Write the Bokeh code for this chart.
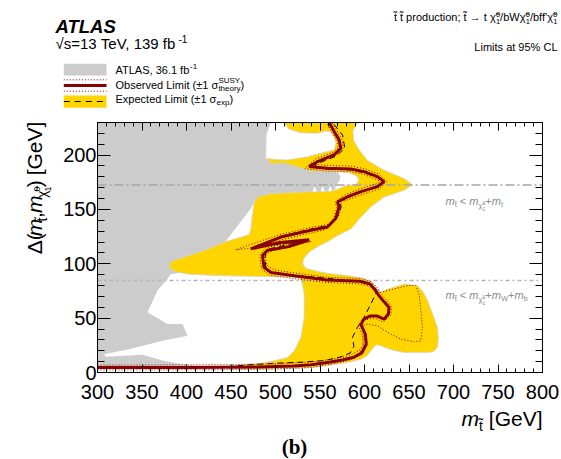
from math import pi
from bokeh.plotting import figure
from bokeh.layouts import column, row
from bokeh.models import (Label, LinearAxis, FixedTicker, CustomJSTickFormatter, Range1d)
from bokeh.embed import file_html
from bokeh.resources import INLINE

# ---------------- data (GeV) ----------------
x_ticks = [300, 350, 400, 450, 500, 550, 600, 650, 700, 750, 800]
y_ticks = [0, 50, 100, 150, 200]
x_minor = list(range(300, 801, 10))
y_minor = list(range(0, 231, 10))

mt_line = 172.5       # m_stop < m_chi + m_t
mwb_line = 84.6       # m_stop < m_chi + m_W + m_b

# previous ATLAS 36.1 fb-1 excluded region (grey)
prev_region = [(300, 230), (494.7, 230), (489.5, 219), (489, 197), (494.8, 192.5), (513, 194), (540, 189),
               (565, 187), (569.7, 184.8), (573, 180), (571.5, 176), (568, 172.5), (566, 165), (564.5, 165),
               (561.5, 172), (558.5, 165), (556, 165), (553, 172), (550, 165), (547, 165), (544, 171.5),
               (541, 165), (500, 163), (476, 157), (472.5, 151), (444.2, 121), (420, 100), (395, 92),
               (382, 90.5), (378.6, 86), (367.4, 75.4), (356.1, 55.4), (378.6, 44.6), (395.5, 44.6),
               (401.1, 33.8), (373, 29.2), (335.5, 21.5), (307.5, 16.9), (309.3, 14.5), (350.5, 16.3),
               (373, 11), (395.5, 7.7), (420, 5.5), (420, 4.5), (300, 4.5)]

# expected +-1 sigma band (yellow)
exp_band = [(494.7, 230), (592, 230), (587, 222), (588, 213), (594, 205), (603, 195.3), (622, 186.1),
            (644.5, 178.4), (654, 172.8), (644.5, 167.6), (622, 161.5), (607, 152.2), (596, 143),
            (585, 132.2), (570, 126), (560, 121), (548, 116), (538, 111), (532, 105), (530.5, 100),
            (534, 96), (545, 93.5), (558, 91.3), (581, 89.2), (600, 86.5), (610, 82), (614, 76),
            (618, 73.8), (625, 76.5), (633, 78.4), (644.5, 81.5), (659.5, 80), (666, 74), (671, 66),
            (677, 53), (682, 41.5), (683, 32), (682, 23), (677, 19), (671, 18.4), (657, 18.4),
            (644.5, 18.4), (630, 21), (618, 24.6), (613, 25.5), (608, 21), (603, 15.4), (596, 12.3),
            (585, 10), (575, 8.5), (560, 6.5), (540, 4.5), (500, 3.3), (460, 3.2), (448, 3.5),
            (447, 5.5), (455, 6.5), (483.5, 8.5), (498.5, 10.8), (513.5, 13.8), (521, 20), (528.4, 32.3),
            (532.2, 50.7), (532.2, 72.3), (530, 82), (527, 87.5), (500, 88), (470, 88.5), (433, 89.2),
            (403, 90.5), (388, 92.5), (381, 96), (381, 100), (385, 103), (397.4, 106.2), (419.9, 112.3),
            (444.2, 120.5), (459, 124), (470.4, 127), (472.3, 132.3), (474.2, 146.1), (476, 156.9),
            (481.6, 162.1), (494.8, 164.6), (532.2, 166.1), (560, 166.5), (568, 168), (578, 171.5),
            (590, 173), (594, 177), (591, 181), (582, 184), (569.7, 184.8), (539.7, 185.4),
            (509.8, 192.5), (494.8, 192.5), (489, 197), (489.5, 219)]

# hole inside the band (not excluded even at -1 sigma)
band_hole = [(494.7, 230), (509, 230), (515, 224), (528, 220.5), (547, 220), (556, 222), (562, 222),
             (566, 216), (567.8, 211), (565.9, 204.8), (558.4, 203.3), (536, 198.6), (513.5, 195.6),
             (500, 196), (489, 197), (489.5, 219)]

observed = [(300, 4.5), (400, 4.5), (480, 5), (520, 6), (540, 7.1), (560, 9.5), (575, 11.5), (588, 14),
            (597, 18), (602, 26), (601, 35), (596, 44), (599, 49), (606, 52), (614, 52), (622, 49),
            (627, 54), (627.5, 60), (622, 65), (616, 71), (612, 76), (606, 81.5), (595, 84), (558, 85.2),
            (521, 89), (495, 92), (487, 96.9), (485.4, 107.7), (491, 112.4), (515, 115.8), (537.8, 122.1),
            (505, 119.6), (472.3, 113.8), (506, 124.6), (539.7, 130.8), (558.4, 133.8), (567.8, 142),
            (571.5, 152.3), (569.7, 156.9), (577, 160), (581, 161.7), (596, 166.4), (614.6, 171),
            (622, 175.6), (614.6, 180.2), (599.6, 184.8), (584.7, 187.3), (558.4, 187.9), (537.8, 189.4),
            (547.2, 194), (565.9, 200.2), (573.4, 206.3), (571.5, 214), (565.9, 221.7), (560.3, 230)]

expected = [(300, 4.5), (440, 5), (470, 7), (500, 8.5), (530, 9.5), (555, 11), (572, 14), (584, 18),
            (588, 24), (586.5, 32.3), (592, 41.5), (599.6, 50.7), (607, 63), (612.7, 72.3), (611, 80),
            (600, 83.5), (560, 86.5), (522, 89.5), (497, 91.5), (489.5, 96), (488, 104), (489, 110),
            (494, 114), (532, 121), (478, 115.5), (507, 125.5), (540, 132), (560, 135.5), (569.5, 143),
            (573.5, 152), (572, 157.5), (579, 160.5), (583, 162), (597.5, 167), (616, 171.5),
            (620.5, 175.6), (614, 179.5), (599, 183.8), (584, 186.5), (558, 187), (541, 188.5),
            (551, 193.5), (568, 199), (577.9, 206.3), (575.3, 218.6), (566, 228), (563, 230)]

obs_up = [(300, 6.8), (450, 7.2), (500, 8), (540, 9.8), (560, 11.8), (575, 13.8), (586, 16.8), (595, 21),
          (599.5, 27), (598.5, 36), (597.7, 43), (603.3, 44.6), (614.6, 43), (625.8, 36.9), (640.8, 30.7),
          (655.8, 28.3), (663.3, 29.2), (665.1, 41.5), (663.3, 56.9), (661.4, 72.3), (657.6, 80),
          (648.3, 80), (633.3, 76.9), (618.3, 73.8), (614, 78.5), (608, 83.5), (596, 86.5), (558, 87.7),
          (522, 91.5), (498, 94.5), (490, 99), (488.5, 107), (493, 111), (540, 120.5), (455, 112.9),
          (505, 127), (540, 133.5), (560, 136.5), (570.5, 143), (574.5, 152.3), (573.5, 157.5),
          (578, 158), (583, 159.5), (598, 164), (616.5, 168.8), (625, 175.6), (616.5, 182.5),
          (600.5, 187.3), (585, 190), (560, 190.5), (543, 191.5), (550, 196.5), (568, 202),
          (576.3, 206.5), (574.5, 214.5), (569, 222.5), (563.5, 230)]

obs_dn = [(300, 2.3), (450, 2.6), (500, 3.2), (540, 4.6), (558, 7.1), (572, 9.2), (584, 11.6), (593, 15.3),
          (598.5, 24), (597.5, 34.5), (593, 44), (597, 47), (606, 49.5), (613, 49.5), (621, 46.3),
          (629.8, 53), (630.3, 61), (624, 67), (618.5, 72.5), (614, 77.2), (606, 79.5), (595, 81.5),
          (558, 82.8), (520, 86.5), (493, 89.5), (484, 95.5), (482.5, 108), (489, 114.8), (525, 120.5),
          (485, 116.8), (507, 122.2), (540, 128.3), (556.5, 131.5), (565.3, 141.5), (569, 152),
          (567, 156.5), (576, 162.3), (580, 164), (595, 169), (612, 173.2), (619, 175.6), (612, 178),
          (599, 182.3), (584.5, 184.7), (558, 185.3), (533, 187.5), (545, 196.5), (563.5, 202.3),
          (570.6, 206.3), (569, 213.5), (563, 221), (557.5, 230)]

# ---------------- styles / layout ----------------
GREY = "#cccccc"
YELLOW = "#ffd500"
RED = "#880000"
FONT = "Liberation Sans"

PW, PH = 561, 459
HDR_H = 112                  # header strip (page y 0..112)
LEFT_W = 56                  # strip holding the y-axis title
M_TOP, M_BOT = 10, 32
FRAME_L, FRAME_R, FRAME_T, FRAME_B = 97, 542, 122, 372
MAIN_H = M_TOP + (FRAME_B - FRAME_T) + M_BOT
MAIN_W = PW - LEFT_W
MAIN_Y0 = HDR_H
MAIN_Y1 = HDR_H + MAIN_H
FOOT_H = PH - MAIN_Y1
XR, YR = (300, 800), (0, 230)
BASE_FIX = 0.33   # baseline correction (fraction of font size)


def blank(w, h, y0, y1):
    f = figure(width=w, height=h, x_range=Range1d(0, w), y_range=Range1d(y1, y0),
               output_backend="svg", toolbar_location=None, min_border=0,
               x_axis_location=None, y_axis_location=None)
    f.grid.visible = False
    f.outline_line_color = None
    f.background_fill_color = "white"
    f.border_fill_color = "white"
    return f


hdr = blank(PW, HDR_H, 0, HDR_H)
lft = blank(LEFT_W, MAIN_H, MAIN_Y0, MAIN_Y1)
ftr = blank(PW, FOOT_H, MAIN_Y1, PH)

p = figure(width=MAIN_W, height=MAIN_H, x_range=Range1d(*XR), y_range=Range1d(*YR),
           output_backend="svg", toolbar_location=None,
           min_border_left=FRAME_L - LEFT_W, min_border_right=PW - FRAME_R,
           min_border_top=M_TOP, min_border_bottom=M_BOT)
p.grid.visible = False
p.outline_line_color = "black"
p.outline_line_width = 1
p.background_fill_color = "white"
p.border_fill_color = "white"


def MX(px):
    return XR[0] + (px - FRAME_L) * (XR[1] - XR[0]) / (FRAME_R - FRAME_L)


def MY(py):
    return YR[0] + (FRAME_B - py) * (YR[1] - YR[0]) / (FRAME_B - FRAME_T)


def xs_ys(pts):
    return [a for a, b in pts], [b for a, b in pts]


gx, gy = xs_ys(prev_region)
p.patch(gx, gy, fill_color=GREY, line_color=None)
bx, by = xs_ys(exp_band)
p.patch(bx, by, fill_color=YELLOW, line_color="#d4d4d4", line_width=0.8)
hx, hy = xs_ys(band_hole)
p.patch(hx, hy, fill_color="white", line_color="#d4d4d4", line_width=0.8)

p.line(list(XR), [mt_line, mt_line], line_color="#a6a6a6", line_width=1.5, line_dash="9 3 2 3")
p.line(list(XR), [mwb_line, mwb_line], line_color="#b4b4b4", line_width=1.5, line_dash="4 3 2 3")

ex, ey = xs_ys(expected)
p.line(ex, ey, line_color="black", line_width=1, line_dash="6 4")
ux, uy = xs_ys(obs_up)
p.line(ux, uy, line_color=RED, line_width=1, line_dash="1 2")
dx, dy_ = xs_ys(obs_dn)
p.line(dx, dy_, line_color=RED, line_width=1, line_dash="1 2")
ox, oy = xs_ys(observed)
p.line(ox, oy, line_color=RED, line_width=3)


# ---------------- axes ----------------
def style_axis(ax, tick_in, minor_in, labels=True):
    ax.axis_line_color = "black"
    ax.major_tick_line_color = "black"
    ax.minor_tick_line_color = "black"
    ax.major_tick_in = tick_in
    ax.major_tick_out = 0
    ax.minor_tick_in = minor_in
    ax.minor_tick_out = 0
    if labels:
        ax.major_label_text_font = FONT
        ax.major_label_text_font_size = "20px"
        ax.major_label_text_color = "black"
    else:
        ax.formatter = CustomJSTickFormatter(code="return ''")
        ax.major_label_text_font_size = "1px"
        ax.major_label_standoff = 0


xa = p.xaxis[0]
xa.ticker = FixedTicker(ticks=x_ticks, minor_ticks=x_minor)
style_axis(xa, 8, 4)
xa.major_label_standoff = 12
ya = p.yaxis[0]
ya.ticker = FixedTicker(ticks=y_ticks, minor_ticks=y_minor)
style_axis(ya, 13, 7)
ya.major_label_standoff = 1

top = LinearAxis(ticker=FixedTicker(ticks=x_ticks, minor_ticks=x_minor))
style_axis(top, 8, 4, labels=False)
p.add_layout(top, "above")
right = LinearAxis(ticker=FixedTicker(ticks=y_ticks, minor_ticks=y_minor))
style_axis(right, 13, 7, labels=False)
p.add_layout(right, "right")

# ---------------- texts ----------------
CW = {' ': .278, ',': .278, '.': .278, '(': .333, ')': .333, '[': .278, ']': .278, '=': .584, '+': .584,
      '<': .584, '±': .584, '-': .333, '%': .889, '/': .278, "'": .191, ';': .278, '→': 1.0, 'σ': .6,
      'χ': .55, 'Δ': .668, '√': .549, '\u0303': 0.0,
      'a': .556, 'b': .556, 'c': .5, 'd': .556, 'e': .556, 'f': .278, 'g': .556, 'h': .556, 'i': .222,
      'j': .222, 'k': .5, 'l': .222, 'm': .833, 'n': .556, 'o': .556, 'p': .556, 'q': .556, 'r': .333,
      's': .5, 't': .278, 'u': .556, 'v': .5, 'w': .722, 'x': .5, 'y': .5, 'z': .5,
      'A': .667, 'B': .667, 'C': .722, 'D': .722, 'E': .667, 'F': .611, 'G': .778, 'H': .722, 'I': .278,
      'L': .556, 'M': .833, 'O': .778, 'P': .667, 'S': .667, 'T': .611, 'U': .722, 'V': .667, 'W': .944,
      'Y': .667}


def tw(s, size):
    return size * sum(CW.get(c, 0.556) for c in s)


def ident(v):
    return v


def put(fig, px, py, parts, align="left", color="black", vertical=False, font=FONT, tx=ident, ty=ident):
    total = sum(tw(t, s) for t, s, d, st, adv in parts if adv)
    pos = px if not vertical else py
    if align == "right":
        pos = pos - total if not vertical else pos + total
    for t, s, d, st, adv in parts:
        fix = BASE_FIX * s
        shown = t.replace(" ", "\u00a0")   # keep leading/trailing spaces in SVG text
        if vertical:
            lab = Label(x=tx(px - d - fix), y=ty(pos), text=shown, angle=pi / 2)
        else:
            lab = Label(x=tx(pos), y=ty(py - d - fix), text=shown)
        lab.text_font = font
        lab.text_font_size = f"{s}px"
        lab.text_font_style = st
        lab.text_color = color
        lab.text_align = "left"
        lab.text_baseline = "alphabetic"
        fig.add_layout(lab)
        if adv:
            w = tw(t, s)
            pos = pos + w if not vertical else pos - w


N, I = "normal", "italic"
TT = "t\u0303"
CH = "\u03c7\u0303"

# header
put(hdr, 55, 32, [("ATLAS", 18.5, 0, "bold italic", True)])
put(hdr, 55, 47.5, [("√s=13 TeV, 139 fb", 15, 0, N, True), ("-1", 10, 6, N, True)])
put(hdr, 115, 73, [("ATLAS, 36.1 fb", 11, 0, N, True), ("-1", 8, 4.5, N, True)])
put(hdr, 115, 88, [("Observed Limit (±1 σ", 11, 0, N, True), ("SUSY", 8, 5, N, False),
                   ("theory", 8, -3, N, True), (")", 11, 0, N, True)])
put(hdr, 115, 102, [("Expected Limit (±1 σ", 11, 0, N, True), ("exp", 8, -3, N, True),
                    (")", 11, 0, N, True)])
put(hdr, 557, 20, [(TT + " " + TT + " production; " + TT + " → t ", 11, 0, N, True),
                   (CH, 11, 0, N, True), ("0", 7.5, 4, N, False), ("1", 7.5, -3, N, True),
                   ("/bW", 11, 0, N, True), (CH, 11, 0, N, True), ("0", 7.5, 4, N, False),
                   ("1", 7.5, -3, N, True), ("/bff'", 11, 0, N, True), (CH, 11, 0, N, True),
                   ("0", 7.5, 4, N, False), ("1", 7.5, -3, N, True)], align="right")
put(hdr, 557, 50, [("Limits at 95% CL", 11, 0, N, True)], align="right")

# legend symbols (header pixel coordinates)
hdr.quad(left=[63.3], right=[106], top=[63.3], bottom=[75], fill_color=GREY, line_color=None)
hdr.line([63.3, 106], [79.3, 79.3], line_color=RED, line_width=1, line_dash="1 2")
hdr.line([63.3, 106], [90.7, 90.7], line_color=RED, line_width=1, line_dash="1 2")
hdr.line([63.3, 106], [85, 85], line_color=RED, line_width=3)
hdr.quad(left=[63.3], right=[106], top=[95], bottom=[107.3], fill_color=YELLOW, line_color=None)
hdr.line([63.3, 106], [101, 101], line_color="black", line_width=1, line_dash="6 5")

# in-frame annotations
ANN = "#8c8c8c"
put(p, 445, 204, [("m", 11, 0, I, True), (TT, 7.5, -2.5, N, True), (" < ", 11, 0, N, True),
                  ("m", 11, 0, I, True), (CH, 7.5, -3.5, N, True), ("0", 5, -0.5, N, False),
                  ("1", 5, -6, N, True), ("+", 11, 0, N, True), ("m", 11, 0, I, True),
                  ("t", 7.5, -2.5, N, True)], color=ANN, tx=MX, ty=MY)
put(p, 445, 298, [("m", 11, 0, I, True), (TT, 7.5, -2.5, N, True), (" < ", 11, 0, N, True),
                  ("m", 11, 0, I, True), (CH, 7.5, -3.5, N, True), ("0", 5, -0.5, N, False),
                  ("1", 5, -6, N, True), ("+", 11, 0, N, True), ("m", 11, 0, I, True),
                  ("W", 7.5, -2.5, N, True), ("+", 11, 0, N, True), ("m", 11, 0, I, True),
                  ("b", 7.5, -2.5, N, True)], color=ANN, tx=MX, ty=MY)

# y-axis title (left strip)
put(lft, 41, 266, [("Δ(", 21, 0, N, True), ("m", 21, 0, I, True), (TT, 14, -5, N, True),
                   (",", 21, 0, N, True), ("m", 21, 0, I, True), (CH, 14, -5, N, True),
                   ("0", 9, 2, N, False), ("1", 9, -9, N, True), (")", 21, 0, N, True),
                   (" [GeV]", 21, 0, N, True)], vertical=True)

# x-axis title and panel label (footer)
put(ftr, 542, 425, [("m", 21, 0, I, True), (TT, 14, -5, N, True), (" [GeV]", 21, 0, N, True)],
    align="right")
ftr.add_layout(Label(x=294, y=453 - BASE_FIX * 21, text="(b)", text_font="Liberation Serif",
                     text_font_style="bold", text_font_size="21px", text_align="center",
                     text_baseline="alphabetic", text_color="black"))

layout = column(hdr, row(lft, p, spacing=0), ftr, spacing=0)
open("out.html", "w").write(file_html(layout, INLINE))
